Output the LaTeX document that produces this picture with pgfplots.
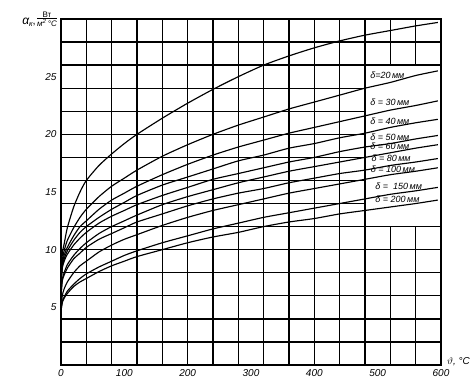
\documentclass[border=0pt]{standalone}
\usepackage{fontspec}
\setmainfont{Liberation Sans}
\usepackage{pgfplots}
\pgfplotsset{compat=1.18}
\tikzset{gridst/.style={black, line width=1.3pt},
  curve/.style={black, solid, line width=1.15pt, smooth, tension=0.4, mark=none}}
\begin{document}
\begin{tikzpicture}
\useasboundingbox (-61pt,-20pt) rectangle (414pt,365pt);
\begin{axis}[
  at={(0pt,0pt)}, anchor=south west,
  width=380pt, height=346pt, scale only axis,
  xmin=0, xmax=600, ymin=0, ymax=30,
  xtick={0,100,...,600}, ytick={5,10,...,25},
  major tick length=0pt,
  axis line style={line width=1.8pt},
  tick label style={font=\itshape\fontsize{10}{11}\selectfont},
  /pgf/number format/assume math mode=true,
  xticklabel style={yshift=-1pt},
  yticklabel style={xshift=-1pt},
  clip=false,
]
% grid
\pgfplotsinvokeforeach{40,80,...,480}{\draw[gridst] (axis cs:#1,0) -- (axis cs:#1,30);}
\pgfplotsinvokeforeach{520,560}{\draw[gridst] (axis cs:#1,0) -- (axis cs:#1,12); \draw[gridst] (axis cs:#1,26) -- (axis cs:#1,30);}
\pgfplotsinvokeforeach{2,4,6,8,10,12,26,28}{\draw[gridst] (axis cs:0,#1) -- (axis cs:600,#1);}
\pgfplotsinvokeforeach{14,16,18,20,22,24}{\draw[gridst] (axis cs:0,#1) -- (axis cs:480,#1);}

% top curve
\addplot[curve] coordinates {(0,7.0) (2,9.6) (5,10.5) (10,11.9) (20,13.7) (30,15.0) (40,16.0) (60,17.3) (80,18.3) (100,19.2) (120,20.0) (160,21.4) (200,22.7) (240,23.9) (280,25.0) (320,26.0) (360,26.8) (400,27.5) (440,28.1) (480,28.6) (520,29.0) (560,29.4) (595,29.7)};
% 20 mm
\addplot[curve] coordinates {(0,7.0) (2,9.0) (5,9.9) (10,10.8) (20,11.9) (30,12.8) (40,13.5) (60,14.6) (80,15.5) (100,16.2) (120,16.9) (160,18.1) (200,19.1) (240,20.0) (280,20.8) (320,21.5) (360,22.2) (400,22.8) (440,23.4) (480,24.0) (520,24.5) (560,25.1) (595,25.5)};
% 30 mm
\addplot[curve] coordinates {(0,7.0) (2,8.7) (5,9.5) (10,10.2) (20,11.2) (30,12.0) (40,12.5) (60,13.5) (80,14.3) (100,14.9) (120,15.5) (160,16.5) (200,17.4) (240,18.2) (280,18.9) (320,19.5) (360,20.1) (400,20.6) (440,21.1) (480,21.6) (520,22.1) (560,22.5) (595,22.9)};
% 40 mm
\addplot[curve] coordinates {(0,7.0) (2,8.6) (5,9.2) (10,9.9) (20,10.8) (30,11.5) (40,12.0) (60,12.8) (80,13.5) (100,14.1) (120,14.7) (160,15.6) (200,16.3) (240,17.0) (280,17.7) (320,18.2) (360,18.8) (400,19.2) (440,19.7) (480,20.1) (520,20.6) (560,21.0) (595,21.3)};
% 50 mm
\addplot[curve] coordinates {(0,7.0) (2,8.4) (5,9.0) (10,9.6) (20,10.4) (30,11.0) (40,11.5) (60,12.3) (80,12.9) (100,13.4) (120,13.9) (160,14.7) (200,15.4) (240,16.1) (280,16.6) (320,17.1) (360,17.6) (400,18.0) (440,18.5) (480,18.9) (520,19.2) (560,19.6) (595,19.9)};
% 60 mm
\addplot[curve] coordinates {(0,6.0) (2,7.4) (5,8.0) (10,8.7) (20,9.5) (30,10.1) (40,10.6) (60,11.4) (80,12.0) (100,12.5) (120,13.0) (160,13.9) (200,14.6) (240,15.2) (280,15.8) (320,16.3) (360,16.8) (400,17.2) (440,17.6) (480,18.0) (520,18.4) (560,18.8) (595,19.1)};
% 80 mm
\addplot[curve] coordinates {(0,6.0) (2,7.3) (5,7.8) (10,8.4) (20,9.2) (30,9.7) (40,10.2) (60,10.9) (80,11.4) (100,11.9) (120,12.4) (160,13.1) (200,13.8) (240,14.4) (280,14.9) (320,15.3) (360,15.8) (400,16.2) (440,16.6) (480,16.9) (520,17.3) (560,17.6) (595,17.9)};
% 100 mm
\addplot[curve] coordinates {(0,4.7) (2,6.0) (5,6.6) (10,7.2) (20,8.0) (30,8.6) (40,9.0) (60,9.8) (80,10.4) (100,10.9) (120,11.3) (160,12.1) (200,12.8) (240,13.4) (280,13.9) (320,14.4) (360,14.9) (400,15.3) (440,15.7) (480,16.1) (520,16.5) (560,16.8) (595,17.1)};
% 150 mm
\addplot[curve] coordinates {(0,4.7) (2,5.5) (5,5.9) (10,6.4) (20,7.0) (30,7.5) (40,7.9) (60,8.5) (80,9.0) (100,9.5) (120,9.9) (160,10.6) (200,11.2) (240,11.8) (280,12.3) (320,12.8) (360,13.2) (400,13.6) (440,14.0) (480,14.4) (520,14.8) (560,15.1) (595,15.4)};
% 200 mm
\addplot[curve] coordinates {(0,4.7) (2,5.4) (5,5.8) (10,6.2) (20,6.8) (30,7.2) (40,7.5) (60,8.1) (80,8.6) (100,9.0) (120,9.4) (160,10.0) (200,10.6) (240,11.1) (280,11.5) (320,12.0) (360,12.4) (400,12.7) (440,13.1) (480,13.4) (520,13.7) (560,14.0) (595,14.3)};

% curve labels
\begin{scope}[every node/.style={anchor=west, inner sep=0pt, font=\itshape\fontsize{9}{10}\selectfont}]
\node at (axis cs:488,25.1) {δ=20\,мм};
\node at (axis cs:488,22.8) {δ = 30\,мм};
\node at (axis cs:488,21.1) {δ = 40\,мм};
\node at (axis cs:488,19.75) {δ = 50\,мм};
\node at (axis cs:488,18.95) {δ = 60\,мм};
\node at (axis cs:490,17.9) {δ = 80\,мм};
\node at (axis cs:489,17.0) {δ = 100\,мм};
\node at (axis cs:496,15.5) {δ =\ \ 150\,мм};
\node at (axis cs:496,14.4) {δ = 200\,мм};
\end{scope}

% axis labels
\node[anchor=east, inner sep=0pt] at ([xshift=-25pt,yshift=-3pt]rel axis cs:0,1)
  {{\itshape\fontsize{12}{13}\selectfont α}\raisebox{-2pt}{\fontsize{7.5}{8}\selectfont\itshape к}{\fontsize{11}{12}\selectfont,}};
\node[inner sep=0pt, font=\fontsize{8}{8.5}\selectfont] at ([xshift=-14pt,yshift=-1pt]rel axis cs:0,1)
  {\begin{tabular}{@{}c@{}}Вт\\[-1.5pt]\hline\rule{0pt}{7.5pt}\itshape м\textsuperscript{2}\,°C\end{tabular}};
\node[anchor=west, inner sep=0pt, font=\itshape\fontsize{10}{11}\selectfont] at ([xshift=6pt,yshift=3pt]axis cs:600,0) {$\vartheta$, °C};
\end{axis}
\end{tikzpicture}
\end{document}
